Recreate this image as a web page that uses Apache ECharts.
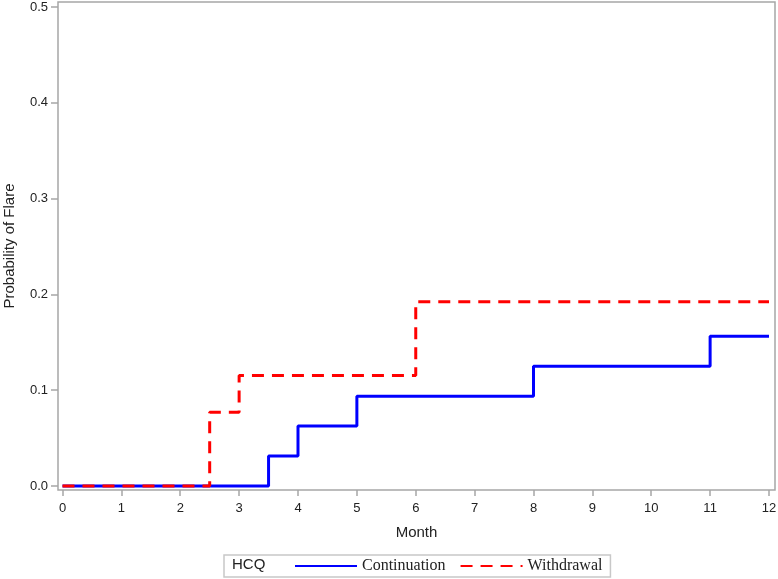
<!DOCTYPE html>
<html><head><meta charset="utf-8">
<script src="https://cdn.jsdelivr.net/npm/echarts@6/dist/echarts.min.js"></script>
<style>html,body{margin:0;padding:0;background:#fff}#c{width:778px;height:579px}</style>
</head><body><div id="c"></div>
<script>
const monthTicks = [0,1,2,3,4,5,6,7,8,9,10,11,12];
const probTicks = [0, 0.1, 0.2, 0.3, 0.4, 0.5];
const continuationX = [0, 3.5, 4, 5, 8, 11, 12];
const continuationY = [0, 0.03125, 0.0625, 0.09375, 0.125, 0.15625, 0.15625];
const withdrawalX = [0, 2.5, 3, 6, 12];
const withdrawalY = [0, 0.0769, 0.1154, 0.1923, 0.1923];
const seriesNames = ['Continuation', 'Withdrawal'];

const chart = echarts.init(document.getElementById('c'));
const gray = '#a6a6a6';
const zip = (xs, ys) => xs.map((x, i) => [x, ys[i]]);
chart.setOption({
  animation: false,
  grid: {left: 58, right: 3, top: 2, bottom: 89, show: true, borderColor: gray, borderWidth: 1.5,
    backgroundColor: 'transparent', outerBoundsMode: 'none', containLabel: false},
  xAxis: {type: 'value', min: -0.0764, max: 12.102,
     axisLine: {show: false, onZero: false},
     axisTick: {show: true, inside: false, length: 6, customValues: monthTicks, lineStyle: {color: gray, width: 1.5}},
     axisLabel: {customValues: monthTicks, color: '#222', fontFamily: 'Liberation Sans Narrow, Liberation Sans, Arial', fontSize: 13, margin: 12},
     splitLine: {show: false},
     name: 'Month', nameLocation: 'middle', nameGap: 35,
     nameTextStyle: {color: '#222', fontFamily: 'Liberation Sans, Arial', fontSize: 15}},
  yAxis: {type: 'value', min: -0.0042, max: 0.5052,
     axisLine: {show: false, onZero: false},
     axisTick: {show: true, inside: false, length: 7, customValues: probTicks, lineStyle: {color: gray, width: 1.5}},
     axisLabel: {customValues: probTicks, color: '#222', fontFamily: 'Liberation Sans, Arial', fontSize: 13, margin: 10,
       formatter: v => v.toFixed(1)},
     splitLine: {show: false},
     name: 'Probability of Flare', nameLocation: 'middle', nameGap: 41, nameRotate: 90,
     nameTextStyle: {color: '#222', fontFamily: 'Liberation Sans, Arial', fontSize: 15}},
  legend: {
    left: 224, top: 555, width: 387, height: 22,
    borderColor: '#c8c8c8', borderWidth: 1.5,
    padding: [3, 8, 3, 70],
    itemWidth: 62, itemHeight: 12, itemGap: 14,
    itemStyle: {opacity: 0},
    textStyle: {fontFamily: 'Liberation Serif, Times New Roman, serif', fontSize: 16, color: '#222'},
    data: seriesNames
  },
  graphic: [{type: 'text', left: 232, top: 557,
    style: {text: 'HCQ', font: '15px "Liberation Sans", Arial', fill: '#222'}}],
  series: [
    {name: seriesNames[0], type: 'line', step: 'end', symbol: 'none',
     color: '#0000ff', lineStyle: {color: '#0000ff', width: 3}, data: zip(continuationX, continuationY)},
    {name: seriesNames[1], type: 'line', step: 'end', symbol: 'none',
     color: '#ff0000', lineStyle: {color: '#ff0000', width: 3, type: [12, 8]}, data: zip(withdrawalX, withdrawalY)}
  ]
});
</script></body></html>
